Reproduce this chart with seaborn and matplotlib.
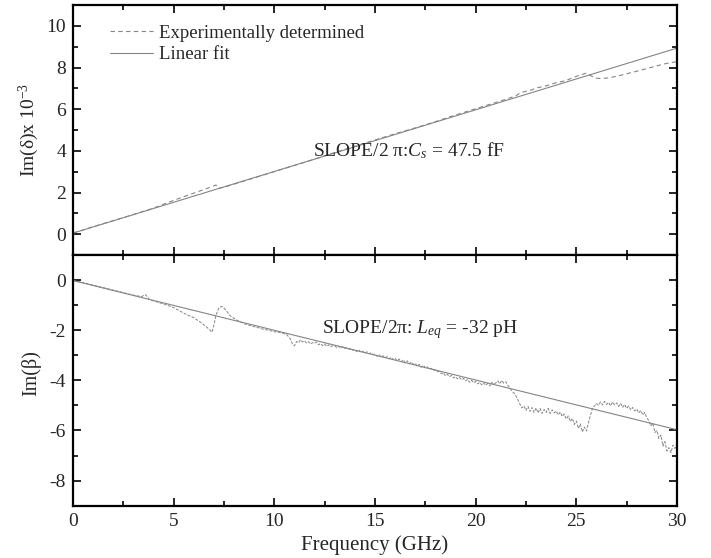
import numpy as np
import pandas as pd
import matplotlib
matplotlib.use("Agg")
import matplotlib.pyplot as plt
import seaborn as sns
from matplotlib.ticker import MultipleLocator

# ---------------- data ----------------
# Top panel: Im(delta) x 1e-3, experimental
freq_top = [0, 1, 2, 3, 4, 4.5, 5, 5.5, 6, 6.5, 6.9, 7.1, 7.2, 7.5, 8, 9, 10, 11, 12, 13,
            14, 15, 16, 17, 18, 19, 20, 21, 22, 22.2, 22.5, 22.8, 23, 23.3, 23.6, 24, 24.3,
            24.6, 24.9, 25.2, 25.5, 25.7, 25.9, 26.2, 26.6, 27, 27.5, 28, 28.5, 29, 29.5, 30]
delta_exp = [0.05, 0.36, 0.65, 0.94, 1.25, 1.44, 1.62, 1.80, 1.97, 2.14, 2.28, 2.36, 2.20, 2.25,
             2.40, 2.70, 3.00, 3.30, 3.60, 3.92, 4.22, 4.52, 4.82, 5.10, 5.40, 5.72, 6.02, 6.32,
             6.64, 6.78, 6.86, 6.93, 7.02, 7.07, 7.15, 7.27, 7.33, 7.42, 7.54, 7.64, 7.73, 7.62,
             7.50, 7.47, 7.50, 7.58, 7.70, 7.82, 7.95, 8.08, 8.20, 8.28]
fit_top_x = [0, 30]
delta_fit = [0.05, 8.93]

# Bottom panel: Im(beta), experimental (smooth part + dense noisy part)
freq_bot_a = [0.0, 0.5, 1.0, 1.5, 2.0, 2.5, 3.0, 3.4, 3.6, 3.8, 4.2, 4.6, 5.0, 5.6, 6.0, 6.4,
              6.7, 6.9, 7.0, 7.1, 7.25, 7.4, 7.6, 7.8, 8.1, 8.5, 9.0, 9.2, 9.4, 9.6, 9.8,
              10.0, 10.2, 10.4, 10.6, 10.8, 10.9, 11.0, 11.1, 11.2]
beta_a = [-0.02, -0.10, -0.20, -0.30, -0.40, -0.50, -0.60, -0.66, -0.58, -0.78, -0.88, -0.98,
          -1.10, -1.36, -1.50, -1.72, -1.92, -2.08, -1.80, -1.40, -1.10, -1.05, -1.20, -1.42,
          -1.58, -1.74, -1.86, -1.90, -1.95, -1.98, -2.02, -2.06, -2.08, -2.12, -2.16, -2.35,
          -2.55, -2.62, -2.45, -2.50]
freq_bot_b = np.round(np.arange(11.3, 30.01, 0.1), 2)
beta_b = [
    -2.38, -2.47, -2.42, -2.52, -2.46, -2.55, -2.50,
    -2.52, -2.47, -2.58, -2.53, -2.62, -2.55, -2.64, -2.58, -2.66, -2.62,
    -2.62, -2.70, -2.64, -2.72, -2.66, -2.74, -2.69, -2.76, -2.72, -2.80,
    -2.78, -2.86, -2.80, -2.88, -2.84, -2.92, -2.86, -2.94, -2.90, -2.97,
    -2.95, -3.04, -2.98, -3.08, -3.02, -3.10, -3.05, -3.14, -3.08, -3.17,
    -3.12, -3.22, -3.15, -3.26, -3.18, -3.30, -3.22, -3.34, -3.27, -3.36,
    -3.32, -3.44, -3.36, -3.48, -3.40, -3.50, -3.46, -3.56, -3.52, -3.60,
    -3.58, -3.66, -3.64, -3.74, -3.70, -3.82, -3.76, -3.86, -3.80, -3.90,
    -3.86, -3.94, -3.88, -3.98, -3.92, -4.02, -3.96, -4.08, -4.00, -4.10,
    -4.04, -4.14, -4.08, -4.18, -4.10, -4.20, -4.12, -4.22, -4.08, -4.16,
    -4.10, -4.02, -4.14, -4.00, -4.12, -4.06, -4.20, -4.30, -4.44, -4.50,
    -4.62, -4.78, -4.95, -5.10, -5.02, -5.20, -5.04, -5.24, -5.08, -5.28,
    -5.10, -5.30, -5.12, -5.32, -5.16, -5.28, -5.12, -5.32, -5.18, -5.30,
    -5.22, -5.38, -5.26, -5.44, -5.34, -5.54, -5.42, -5.64, -5.52, -5.76,
    -5.62, -5.92, -5.74, -6.06, -5.86, -6.02, -5.70, -5.40, -5.12, -5.02,
    -4.92, -5.00, -4.86, -4.98, -4.84, -4.96, -4.88, -5.02, -4.86, -4.98,
    -4.90, -5.04, -4.92, -5.08, -4.96, -5.12, -5.02, -5.18, -5.08, -5.22,
    -5.14, -5.30, -5.20, -5.38, -5.28, -5.50, -5.60, -5.82, -5.70, -6.08,
    -6.00, -6.32, -6.18, -6.62, -6.44, -6.82, -6.68, -6.88, -6.58, -6.72,
    -6.50]
fit_bot_x = [0, 30]
beta_fit = [-0.02, -5.97]

x_ticks = [0, 5, 10, 15, 20, 25, 30]

# ---------------- style ----------------
sns.set_style("ticks")
plt.rcParams["font.family"] = ["Liberation Serif", "DejaVu Serif"]
plt.rcParams["mathtext.fontset"] = "custom"
plt.rcParams["mathtext.rm"] = "Liberation Serif"
plt.rcParams["mathtext.it"] = "Liberation Serif:italic"
plt.rcParams["mathtext.bf"] = "Liberation Serif:bold"

fig = plt.figure(figsize=(7.11, 5.58), dpi=100)
L, R = 73 / 711, 677 / 711
y_mid = 1 - 255 / 558
ax1 = fig.add_axes([L, y_mid, R - L, (1 - 5 / 558) - y_mid])
ax2 = fig.add_axes([L, 1 - 505.7 / 558, R - L, y_mid - (1 - 505.7 / 558)])

line_col = "#858585"

df_top_exp = pd.DataFrame({"f": freq_top, "v": delta_exp})
df_top_fit = pd.DataFrame({"f": fit_top_x, "v": delta_fit})
sns.lineplot(data=df_top_exp, x="f", y="v", ax=ax1, color=line_col, lw=0.8,
             linestyle=(0, (4, 3)), label="Experimentally determined", sort=False)
sns.lineplot(data=df_top_fit, x="f", y="v", ax=ax1, color=line_col, lw=0.8,
             label="Linear fit", sort=False)

df_bot_exp = pd.DataFrame({"f": list(freq_bot_a) + list(freq_bot_b),
                           "v": list(beta_a) + list(beta_b)})
df_bot_fit = pd.DataFrame({"f": fit_bot_x, "v": beta_fit})
sns.lineplot(data=df_bot_exp, x="f", y="v", ax=ax2, color=line_col, lw=0.7,
             linestyle=(0, (3, 1.5)), sort=False)
sns.lineplot(data=df_bot_fit, x="f", y="v", ax=ax2, color=line_col, lw=0.8, sort=False)

ax1.set_xlim(0, 30)
ax2.set_xlim(0, 30)
ax1.set_ylim(-1, 11)
ax2.set_ylim(-9, 1)
for ax in (ax1, ax2):
    ax.xaxis.set_major_locator(MultipleLocator(5))
    ax.xaxis.set_minor_locator(MultipleLocator(2.5))
    ax.yaxis.set_major_locator(MultipleLocator(2))
    ax.yaxis.set_minor_locator(MultipleLocator(1))
    ax.tick_params(which="both", direction="in", top=True, right=True,
                   width=1.4, labelsize=14, pad=5)
    ax.tick_params(which="major", length=6)
    ax.tick_params(which="minor", length=3.5)
    for s in ax.spines.values():
        s.set_linewidth(1.6)
        s.set_color("black")

ax1.set_xticks(x_ticks)
ax1.set_xticklabels([])
ax1.set_xlabel("")
ax2.set_xticks(x_ticks)
ax2.set_xticklabels([str(t) for t in x_ticks])
ax1.set_yticks([0, 2, 4, 6, 8, 10])
ax2.set_yticks([0, -2, -4, -6, -8])
ax2.set_yticklabels(["0", "-2", "-4", "-6", "-8"])

ax1.set_ylabel("Im(δ)x 10$^{-3}$", fontsize=14)
ax2.set_ylabel("Im(β)", fontsize=14.5)
ax1.yaxis.set_label_coords(-0.053, 0.5)
ax2.yaxis.set_label_coords(-0.053, 0.53)
ax2.set_xlabel("Frequency (GHz)", fontsize=15, labelpad=4)

ax1.text(11.9, 4.0, "SLOPE/2 π:$C_s$ = 47.5 fF", fontsize=14, va="center", ha="left")
ax2.text(12.37, -1.97, "SLOPE/2π: $L_{eq}$ = -32 pH", fontsize=14, va="center", ha="left")

leg = ax1.legend(loc="upper left", bbox_to_anchor=(0.04, 0.975), frameon=False,
                 fontsize=13.5, handlelength=2.3, handletextpad=0.3,
                 labelspacing=0.25, borderaxespad=0.3)

fig.savefig("out.png", dpi=100)
